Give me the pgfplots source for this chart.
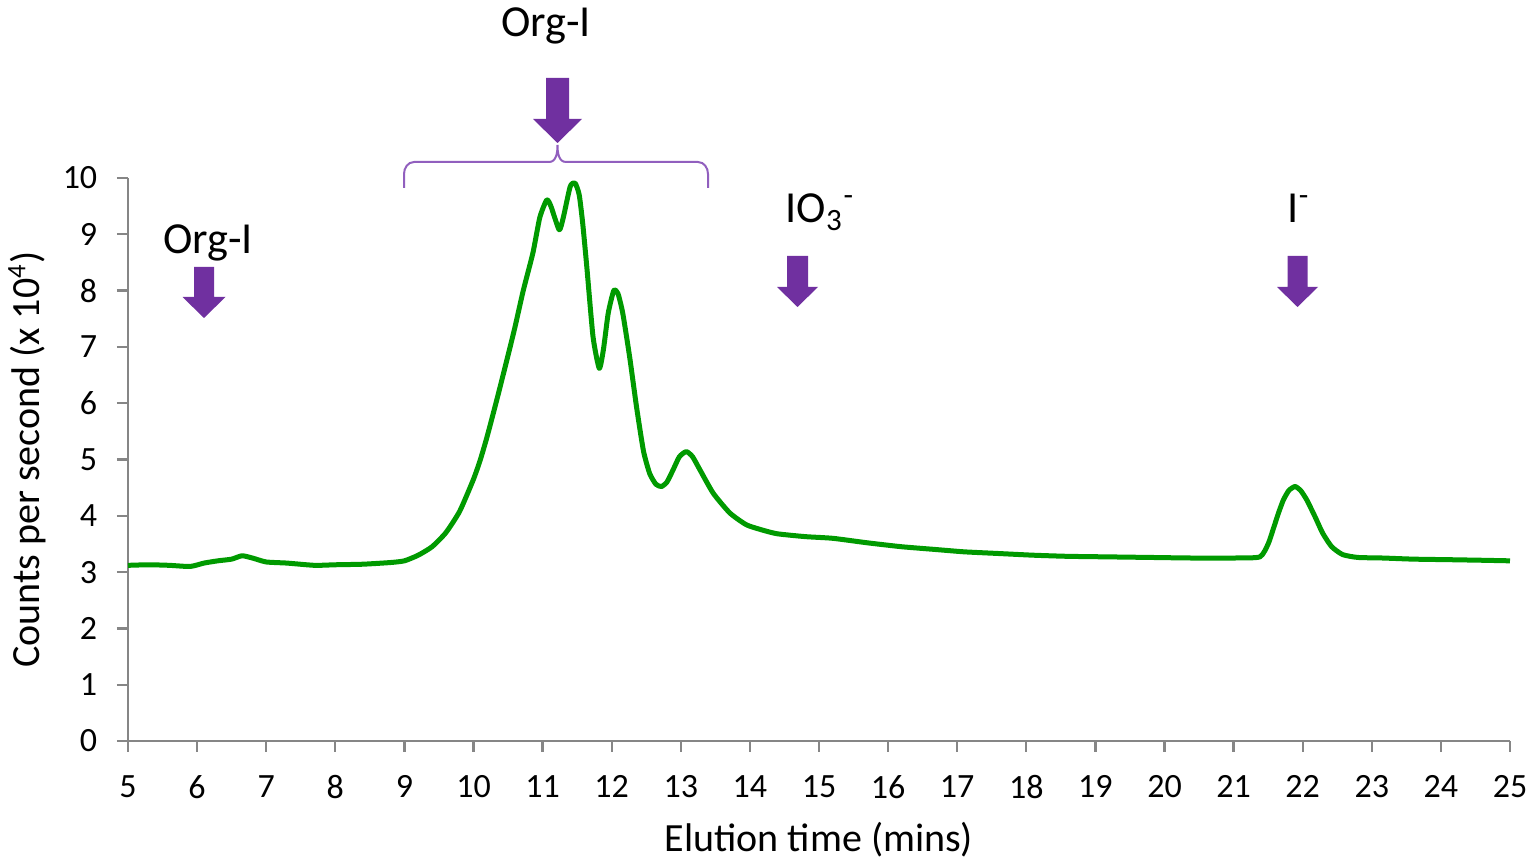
\documentclass[border=0pt]{standalone}
\usepackage{fontspec}
\setmainfont{Carlito}
\usepackage{pgfplots}
\pgfplotsset{compat=1.18}
\definecolor{curvegreen}{RGB}{0,154,0}
\definecolor{arrowpurple}{RGB}{112,48,160}
\definecolor{bracketpurple}{RGB}{145,95,190}
\definecolor{axisgray}{RGB}{134,134,134}
\newcommand\purplearrow[6]{%
  \fill[arrowpurple] ({#1-#5},#2) -- ({#1+#5},#2) -- ({#1+#5},#3) -- ({#1+#6},#3)
    -- (#1,#4) -- ({#1-#6},#3) -- ({#1-#5},#3) -- cycle;}
\begin{document}
\begin{tikzpicture}
\begin{axis}[
  at={(0,0)}, anchor=south west,
  x=20.73pt, y=16.89pt,
  xmin=5, xmax=25, ymin=0, ymax=10,
  axis x line=bottom, axis y line=left,
  axis line style={draw=axisgray, line width=0.7pt, -},
  xtick={5,...,25}, ytick={0,...,10},
  tick align=outside, major tick length=3.3pt,
  tick style={draw=axisgray, line width=0.7pt},
  /pgf/number format/assume math mode=true,
  ticklabel style={font=\fontsize{10.2}{12}\selectfont, text=black},
  xticklabel style={yshift=-3.6pt},
  yticklabel style={xshift=-2.4pt},
  xlabel={Elution time (mins)},
  ylabel={Counts per second (x 10\textsuperscript{4})},
  label style={font=\fontsize{12}{14}\selectfont},
  xlabel style={at={(axis description cs:0.5,-0.1954)}, anchor=base},
  ylabel style={at={(axis description cs:-0.0637,0.5)}, anchor=base},
  clip=false,
]
\addplot[color=curvegreen, line width=1.5pt, line join=round, smooth, tension=0.35] coordinates {
(5.00,3.12) (5.30,3.13) (5.60,3.12) (5.90,3.10) (6.10,3.16) (6.30,3.20)
(6.50,3.23) (6.65,3.29) (6.80,3.25) (7.00,3.18) (7.30,3.16) (7.70,3.12)
(8.00,3.13) (8.40,3.14) (8.80,3.17) (9.00,3.20) (9.20,3.30) (9.40,3.45)
(9.60,3.70) (9.80,4.08) (10.00,4.65) (10.10,5.00) (10.20,5.42) (10.35,6.12)
(10.50,6.85) (10.60,7.35) (10.72,8.00) (10.86,8.67) (10.96,9.30) (11.06,9.61)
(11.12,9.50) (11.24,9.08) (11.30,9.30) (11.40,9.85) (11.47,9.91) (11.53,9.70)
(11.58,9.20) (11.64,8.42) (11.73,7.18) (11.82,6.62) (11.88,6.95) (11.95,7.60)
(12.03,8.00) (12.09,7.95) (12.16,7.60) (12.26,6.82) (12.36,5.93) (12.46,5.15)
(12.55,4.75) (12.64,4.56) (12.72,4.52) (12.80,4.60) (12.89,4.82) (12.98,5.05)
(13.08,5.14) (13.17,5.05) (13.28,4.81) (13.47,4.40) (13.71,4.05) (13.95,3.84)
(14.20,3.74) (14.40,3.68) (14.80,3.63) (15.20,3.60) (15.70,3.52) (16.20,3.45)
(16.70,3.40) (17.10,3.36) (17.60,3.33) (18.10,3.30) (18.60,3.28) (19.20,3.27)
(19.80,3.26) (20.40,3.25) (21.00,3.25) (21.38,3.27) (21.50,3.50) (21.57,3.75)
(21.65,4.05) (21.72,4.28) (21.80,4.45) (21.89,4.52) (21.97,4.45) (22.06,4.28)
(22.18,3.98) (22.29,3.69) (22.42,3.45) (22.58,3.31) (22.80,3.26) (23.16,3.25)
(23.60,3.23) (24.13,3.22) (24.60,3.21) (25.00,3.20)
};
\end{axis}
\begin{scope}[x=0.3pt, y=-0.3pt, shift={(-38.4pt,222.3pt)}]
  \purplearrow{204}{267}{297}{318}{10}{21.5}
  \purplearrow{557.5}{78}{119}{143}{11.5}{24.5}
  \purplearrow{797.5}{256}{287}{307}{10.5}{20.5}
  \purplearrow{1297.5}{256}{287}{307}{10}{20.5}
  \draw[bracketpurple, line width=0.6pt] (404,188) -- (404,174) to[out=90,in=180] (414,162)
     -- (549,162) to[out=0,in=-90] (557.5,145) to[out=-90,in=180] (566,162)
     -- (698,162) to[out=0,in=90] (708,174) -- (708,188);
  \node[anchor=base, inner sep=0pt, font=\fontsize{13.3}{15}\selectfont] at (546,37) {Org-I};
  \node[anchor=base, inner sep=0pt, font=\fontsize{13.3}{15}\selectfont] at (208,254) {Org-I};
  \node[anchor=base west, inner sep=0pt, font=\fontsize{13.3}{15}\selectfont] at (785,223) {IO\textsubscript{3}\textsuperscript{-}};
  \node[anchor=base west, inner sep=0pt, font=\fontsize{13.3}{15}\selectfont] at (1287,223) {I\textsuperscript{-}};
  \pgfresetboundingbox
  \path[use as bounding box] (0,0) rectangle (1540,859);
\end{scope}
\end{tikzpicture}
\end{document}
